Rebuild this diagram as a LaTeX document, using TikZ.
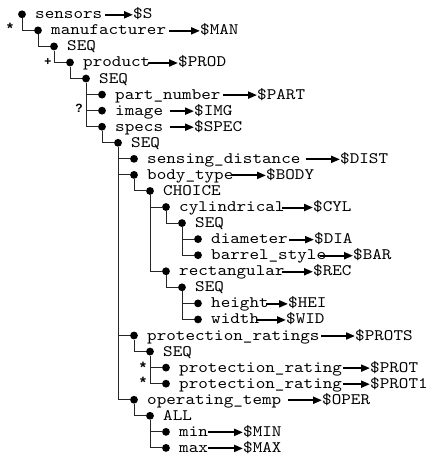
\documentclass[tikz,border=0pt]{standalone}
\usepackage{fontspec}
\usetikzlibrary{arrows.meta}
\newfontfamily\courf{lmmono10-regular.otf}[FakeStretch=1.14]
\newfontfamily\markf{Liberation Sans Bold}
\begin{document}
\begin{tikzpicture}[x=1pt,y=-1pt,
  dot/.style={circle,fill=black,inner sep=0pt,minimum size=7.8pt},
  lbl/.style={anchor=base west,inner sep=0pt,font=\courf\fontsize{16}{16}\selectfont},
  tree/.style={draw=black!85,line width=1pt},
  refarrow/.style={-{Triangle[length=9pt,width=7pt]},line width=2pt},
  marker/.style={anchor=base,inner sep=0pt,font=\markf\fontsize{12}{12}\selectfont},
  starmark/.style={marker,font=\markf\fontsize{15}{15}\selectfont}]
\useasboundingbox (0,0) rectangle (435,464);
% rows: bullets and labels
\foreach \i/\L/\txt in {1/0/sensors, 2/1/manufacturer, 3/2/SEQ, 4/3/product, 5/4/SEQ,
  6/5/part\_number, 7/5/image, 8/5/specs, 9/6/SEQ, 10/7/sensing\_distance,
  11/7/body\_type, 12/8/CHOICE, 13/9/cylindrical, 14/10/SEQ, 15/11/diameter,
  16/11/barrel\_style, 17/9/rectangular, 18/10/SEQ, 19/11/height, 20/11/width,
  21/7/protection\_ratings, 22/8/SEQ, 23/9/protection\_rating, 24/9/protection\_rating,
  25/7/operating\_temp, 26/8/ALL, 27/9/min, 28/9/max}{
  \pgfmathsetmacro\yy{14.3+(\i-1)*16.06}
  \pgfmathsetmacro\xx{22+16*\L}
  \node[dot] (b\i) at (\xx,\yy) {};
  \node[lbl] (t\i) at (\xx+13,\yy+4.5) {\txt};
}
% tree connectors
\foreach \p/\c in {1/2, 2/3, 3/4, 4/5, 5/6, 5/7, 5/8, 8/9, 9/10, 9/11, 11/12,
  12/13, 13/14, 14/15, 14/16, 12/17, 17/18, 18/19, 18/20, 9/21, 21/22, 22/23,
  22/24, 9/25, 25/26, 26/27, 26/28}{
  \draw[tree] (b\p) |- (b\c);
}
% variable bindings
\foreach \i/\sx/\tx/\v in {1/105/133/S, 2/169/200/MAN, 4/148/178/PROD, 6/223/257/PART,
  7/170/194/IMG, 8/170/194/SPEC, 10/306/340/DIST, 11/232/266/BODY, 13/282/313/CYL,
  15/289/314/DIA, 16/320/353/BAR, 17/282/313/REC, 19/266/288/HEI, 20/257/286/WID,
  21/321/355/PROTS, 23/343/370/PROT, 24/343/370/PROT1, 25/288/322/OPER,
  27/208/243/MIN, 28/208/243/MAX}{
  \pgfmathsetmacro\yy{14.3+(\i-1)*16.06}
  \node[lbl] (v\i) at (\tx,\yy+4.5) {\$\v};
  \coordinate (a\i) at (\sx,\yy+0.5);
  \draw[refarrow] (a\i) -- (v\i.west |- a\i);
}
% occurrence markers
\node[starmark] (m2)  at (10,  33.6) {*};
\node[marker]   (m4)  at (48,  65.0) {+};
\node[marker]   (m7)  at (79, 112.2) {?};
\node[starmark] (m23) at (143,372.6) {*};
\node[starmark] (m24) at (143,387.6) {*};
\end{tikzpicture}
\end{document}
